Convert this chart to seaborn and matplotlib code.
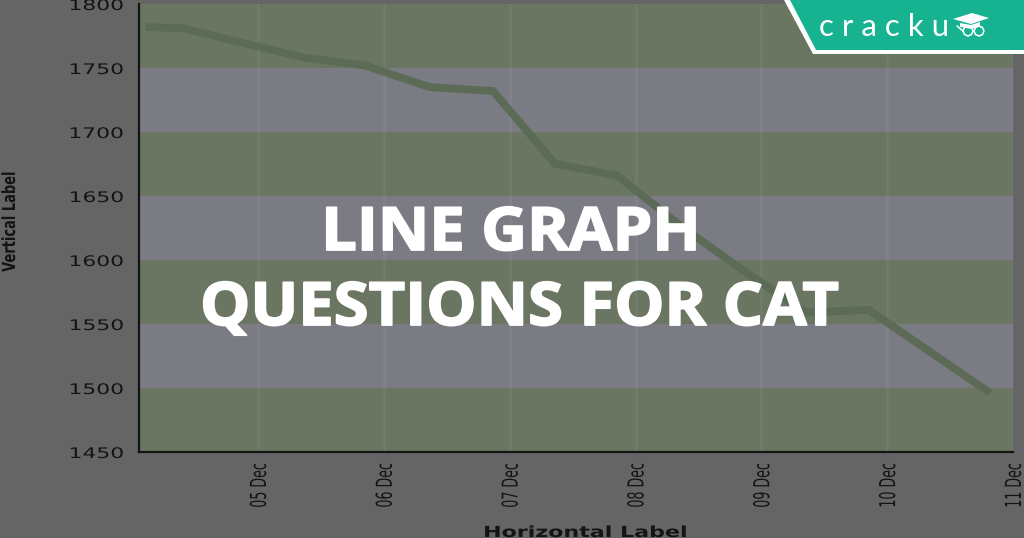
import matplotlib
matplotlib.use("Agg")
import matplotlib.pyplot as plt
import matplotlib.dates as mdates
import matplotlib.patheffects as pe
from matplotlib.patches import Polygon
from matplotlib.transforms import Affine2D
import pandas as pd
import seaborn as sns

dates = ["2023-12-04 02:30", "2023-12-04 09:40", "2023-12-05 08:50", "2023-12-05 20:20",
         "2023-12-06 08:50", "2023-12-06 20:50", "2023-12-07 08:40", "2023-12-07 20:30",
         "2023-12-08 08:30", "2023-12-08 20:50", "2023-12-09 08:30", "2023-12-09 20:30",
         "2023-12-10 19:40"]
values = [1782, 1781, 1758, 1752, 1735, 1732, 1675, 1666, 1627, 1591, 1559, 1561, 1496]
y_ticks = [1450, 1500, 1550, 1600, 1650, 1700, 1750, 1800]
x_ticks = ["2023-12-05", "2023-12-06", "2023-12-07", "2023-12-08", "2023-12-09", "2023-12-10", "2023-12-11"]
x_start, x_end = "2023-12-04 01:18", "2023-12-11 00:00"
title_lines = ["LINE GRAPH", "QUESTIONS FOR CAT"]

BG, GREEN, GRAY = "#666566", "#6a7661", "#7b7b83"
INK = "#141414"


class Stretch(pe.AbstractPathEffect):
    """Widen or narrow glyphs along the text direction, about a chosen anchor."""
    def __init__(self, sx, anchor="right", stroke=0, sy=1):
        super().__init__()
        self.sx, self.anchor, self.stroke, self.sy = sx, anchor, stroke, sy

    def draw_path(self, renderer, gc, tpath, affine, rgbFace=None):
        ext = tpath.get_extents()
        px = ext.x1 if self.anchor == "right" else (ext.x0 + ext.x1) / 2
        t = (Affine2D().translate(-px, -ext.y1).scale(self.sx, self.sy)
             .translate(px, ext.y1))
        if self.stroke:
            gc0 = renderer.new_gc()
            gc0.copy_properties(gc)
            gc0.set_linewidth(self.stroke)
            gc0.set_foreground(rgbFace)
            renderer.draw_path(gc0, tpath, t + affine, rgbFace)
            gc0.restore()
        else:
            renderer.draw_path(gc, tpath, t + affine, rgbFace)


sns.set_theme(style="white")
plt.rcParams["font.family"] = ["DejaVu Sans"]
fig = plt.figure(figsize=(10.24, 5.38), dpi=100, facecolor=BG)
ax = fig.add_axes([139 / 1024, 1 - 452 / 538, (1013 - 139) / 1024, 448 / 538], facecolor=BG)

for i, (lo, hi) in enumerate(zip(y_ticks[:-1], y_ticks[1:])):
    ax.axhspan(lo, hi, color=GREEN if i % 2 == 0 else GRAY, lw=0, zorder=0)

df = pd.DataFrame({"date": pd.to_datetime(dates), "value": values})
sns.lineplot(data=df, x="date", y="value", ax=ax, color="#5b6b55", lw=5.6, zorder=3,
             solid_joinstyle="miter", solid_capstyle="butt")

ax.set_xlim(pd.Timestamp(x_start), pd.Timestamp(x_end))
ax.set_ylim(y_ticks[0], y_ticks[-1])
ax.set_yticks(y_ticks)
ax.set_xticks(pd.to_datetime(x_ticks))
ax.xaxis.set_major_formatter(mdates.DateFormatter("%d %b"))
ax.grid(axis="x", color="#ffffff", alpha=0.06, lw=1.8, zorder=1)
ax.set_axisbelow(True)
ax.tick_params(axis="both", length=0)
ax.tick_params(axis="y", pad=11, labelsize=10.5, labelcolor=INK)
ax.tick_params(axis="x", pad=8, labelsize=13, labelcolor=INK, labelrotation=90)
for lab in ax.get_yticklabels():
    lab.set_path_effects([Stretch(1.5)])
for lab in ax.get_xticklabels():
    lab.set_path_effects([Stretch(0.70, sy=1.22)])
    lab.set_ha("center")

for side in ("top", "right"):
    ax.spines[side].set_visible(False)
for side in ("left", "bottom"):
    ax.spines[side].set_color(INK)
    ax.spines[side].set_linewidth(1.6)

ax.set_xlabel("")
ax.set_ylabel("")
fig.text(585 / 1024, 1 - 537 / 538, "Horizontal Label", ha="center", va="baseline", color=INK,
         fontsize=11, fontweight="bold", path_effects=[Stretch(1.45, "center")])
fig.text(10 / 1024, 1 - 222 / 538, "Vertical Label", rotation=90, ha="center", va="center", color=INK,
         fontsize=13, fontweight="bold", path_effects=[Stretch(0.72, "center")])

for line, xc, base in zip(title_lines, (511, 520), (250, 325)):
    fig.text(xc / 1024, 1 - base / 538, line, ha="center", va="baseline", color="white",
             fontsize=43, fontweight="bold", family="Open Sans", zorder=10,
             path_effects=[Stretch(1.06, "center", stroke=1.3)])

# badge
W, H = 1024, 538
def fp(pts):
    return [(x / W, 1 - y / H) for x, y in pts]

fig.add_artist(Polygon(fp([(784, 0), (813, 54), (1024, 54), (1024, 0)]), closed=True, fc="white", lw=0, zorder=11))
fig.add_artist(Polygon(fp([(790, 0), (816, 50), (1024, 50), (1024, 0)]), closed=True, fc="#17b391", lw=0, zorder=12))
fig.text(819 / W, 1 - 36 / H, "c r a c k u", color="white", fontsize=22.5, family="Lato",
         ha="left", va="baseline", zorder=13)
fig.add_artist(Polygon(fp([(953, 19), (972, 13), (989, 18), (971, 24)]), closed=True, fc="white", lw=0, zorder=13))
fig.add_artist(Polygon(fp([(960, 23), (960, 27), (972, 29), (980, 26), (980, 22), (971, 25)]), closed=True,
                       fc="white", lw=0, zorder=13))
for cx in (968, 979):
    fig.add_artist(plt.Line2D([(cx + 5 * dx) / W for dx in (-1, -0.7, 0, 0.7, 1, 0.7, 0, -0.7, -1)],
                              [1 - (31 + 5 * dy) / H for dy in (0, 0.7, 1, 0.7, 0, -0.7, -1, -0.7, 0)],
                              color="white", lw=1.1, zorder=13))
fig.add_artist(plt.Line2D([957 / W, 963 / W], [1 - 26 / H, 1 - 31 / H], color="white", lw=1.1, zorder=13))

fig.savefig("out.png", dpi=100, facecolor=BG)
